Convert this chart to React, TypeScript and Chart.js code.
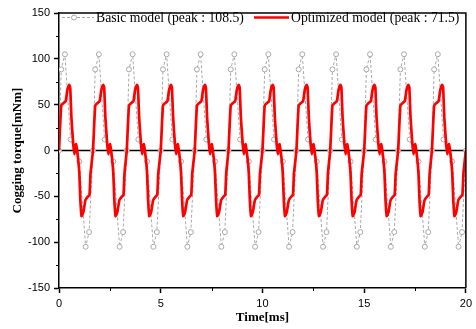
import React, { useEffect, useRef } from "react";
import { Chart, registerables } from "chart.js";

Chart.register(...registerables);

const basicLabel = "Basic model (peak : 108.5)";
const optLabel = "Optimized model (peak : 71.5)";
const xTitle = "Time[ms]";
const yTitle = "Cogging torque[mNm]";

const xTicks = [0, 5, 10, 15, 20];
const yTicks = [-150, -100, -50, 0, 50, 100, 150];
const xMinorTicks = [2.5, 7.5, 12.5, 17.5];
const yMinorTicks = [-125, -75, -25, 25, 75, 125];

// Basic model: sampled points (circles)
const basicTime = [
  0, 0.11, 0.29, 0.57, 1.0, 1.31, 1.48,
  1.67, 1.78, 1.96, 2.24, 2.67, 2.98, 3.15,
  3.33, 3.44, 3.62, 3.9, 4.33, 4.64, 4.81,
  5.0, 5.11, 5.29, 5.57, 6.0, 6.31, 6.48,
  6.67, 6.78, 6.96, 7.24, 7.67, 7.98, 8.15,
  8.33, 8.44, 8.62, 8.9, 9.33, 9.64, 9.81,
  10.0, 10.11, 10.29, 10.57, 11.0, 11.31, 11.48,
  11.67, 11.78, 11.96, 12.24, 12.67, 12.98, 13.15,
  13.33, 13.44, 13.62, 13.9, 14.33, 14.64, 14.81,
  15.0, 15.11, 15.29, 15.57, 16.0, 16.31, 16.48,
  16.67, 16.78, 16.96, 17.24, 17.67, 17.98, 18.15,
  18.33, 18.44, 18.62, 18.9, 19.33, 19.64, 19.81,
  20.0,
];
const basicTorque = [
  0, 88.5, 105, 12, -12, -105, -89,
  0, 88.5, 105, 12, -12, -105, -89,
  0, 88.5, 105, 12, -12, -105, -89,
  0, 88.5, 105, 12, -12, -105, -89,
  0, 88.5, 105, 12, -12, -105, -89,
  0, 88.5, 105, 12, -12, -105, -89,
  0, 88.5, 105, 12, -12, -105, -89,
  0, 88.5, 105, 12, -12, -105, -89,
  0, 88.5, 105, 12, -12, -105, -89,
  0, 88.5, 105, 12, -12, -105, -89,
  0, 88.5, 105, 12, -12, -105, -89,
  0, 88.5, 105, 12, -12, -105, -89,
  0,
];

// Optimized model
const optTime = [
  0, 0.11, 0.21, 0.33, 0.41, 0.5, 0.55, 0.61, 0.7, 0.76, 0.84, 0.93, 1.0, 1.05, 1.11, 1.2, 1.3, 1.41, 1.5, 1.55,
  1.67, 1.78, 1.88, 2.0, 2.08, 2.17, 2.22, 2.28, 2.37, 2.43, 2.51, 2.6, 2.67, 2.72, 2.78, 2.87, 2.97, 3.08, 3.17, 3.22,
  3.33, 3.44, 3.54, 3.66, 3.74, 3.83, 3.88, 3.94, 4.03, 4.09, 4.17, 4.26, 4.33, 4.38, 4.44, 4.53, 4.63, 4.74, 4.83, 4.88,
  5.0, 5.11, 5.21, 5.33, 5.41, 5.5, 5.55, 5.61, 5.7, 5.76, 5.84, 5.93, 6.0, 6.05, 6.11, 6.2, 6.3, 6.41, 6.5, 6.55,
  6.67, 6.78, 6.88, 7.0, 7.08, 7.17, 7.22, 7.28, 7.37, 7.43, 7.51, 7.6, 7.67, 7.72, 7.78, 7.87, 7.97, 8.08, 8.17, 8.22,
  8.33, 8.44, 8.54, 8.66, 8.74, 8.83, 8.88, 8.94, 9.03, 9.09, 9.17, 9.26, 9.33, 9.38, 9.44, 9.53, 9.63, 9.74, 9.83, 9.88,
  10.0, 10.11, 10.21, 10.33, 10.41, 10.5, 10.55, 10.61, 10.7, 10.76, 10.84, 10.93, 11.0, 11.05, 11.11, 11.2, 11.3, 11.41, 11.5, 11.55,
  11.67, 11.78, 11.88, 12.0, 12.08, 12.17, 12.22, 12.28, 12.37, 12.43, 12.51, 12.6, 12.67, 12.72, 12.78, 12.87, 12.97, 13.08, 13.17, 13.22,
  13.33, 13.44, 13.54, 13.66, 13.74, 13.83, 13.88, 13.94, 14.03, 14.09, 14.17, 14.26, 14.33, 14.38, 14.44, 14.53, 14.63, 14.74, 14.83, 14.88,
  15.0, 15.11, 15.21, 15.33, 15.41, 15.5, 15.55, 15.61, 15.7, 15.76, 15.84, 15.93, 16.0, 16.05, 16.11, 16.2, 16.3, 16.41, 16.5, 16.55,
  16.67, 16.78, 16.88, 17.0, 17.08, 17.17, 17.22, 17.28, 17.37, 17.43, 17.51, 17.6, 17.67, 17.72, 17.78, 17.87, 17.97, 18.08, 18.17, 18.22,
  18.33, 18.44, 18.54, 18.66, 18.74, 18.83, 18.88, 18.94, 19.03, 19.09, 19.17, 19.26, 19.33, 19.38, 19.44, 19.53, 19.63, 19.74, 19.83, 19.88,
  20.0,
];
const optTorque = [
  0, 49, 51.5, 54, 66, 71.5, 69, 36, 7, -4, 7, -7, -25, -54, -71.5, -67, -54, -50.5, -48.5, -25,
  0, 49, 51.5, 54, 66, 71.5, 69, 36, 7, -4, 7, -7, -25, -54, -71.5, -67, -54, -50.5, -48.5, -25,
  0, 49, 51.5, 54, 66, 71.5, 69, 36, 7, -4, 7, -7, -25, -54, -71.5, -67, -54, -50.5, -48.5, -25,
  0, 49, 51.5, 54, 66, 71.5, 69, 36, 7, -4, 7, -7, -25, -54, -71.5, -67, -54, -50.5, -48.5, -25,
  0, 49, 51.5, 54, 66, 71.5, 69, 36, 7, -4, 7, -7, -25, -54, -71.5, -67, -54, -50.5, -48.5, -25,
  0, 49, 51.5, 54, 66, 71.5, 69, 36, 7, -4, 7, -7, -25, -54, -71.5, -67, -54, -50.5, -48.5, -25,
  0, 49, 51.5, 54, 66, 71.5, 69, 36, 7, -4, 7, -7, -25, -54, -71.5, -67, -54, -50.5, -48.5, -25,
  0, 49, 51.5, 54, 66, 71.5, 69, 36, 7, -4, 7, -7, -25, -54, -71.5, -67, -54, -50.5, -48.5, -25,
  0, 49, 51.5, 54, 66, 71.5, 69, 36, 7, -4, 7, -7, -25, -54, -71.5, -67, -54, -50.5, -48.5, -25,
  0, 49, 51.5, 54, 66, 71.5, 69, 36, 7, -4, 7, -7, -25, -54, -71.5, -67, -54, -50.5, -48.5, -25,
  0, 49, 51.5, 54, 66, 71.5, 69, 36, 7, -4, 7, -7, -25, -54, -71.5, -67, -54, -50.5, -48.5, -25,
  0, 49, 51.5, 54, 66, 71.5, 69, 36, 7, -4, 7, -7, -25, -54, -71.5, -67, -54, -50.5, -48.5, -25,
  0,
];

const BASIC_COLOR = "#a8a8a8";
const OPT_COLOR = "#ff0000";
const SERIF = "'Liberation Serif', 'Times New Roman', serif";
const SANS = "'Liberation Sans', Arial, sans-serif";

const framePlugin = {
  id: "frame",
  beforeDatasetsDraw(chart: any) {
    const { ctx, chartArea, scales } = chart;
    const y0 = scales.y.getPixelForValue(0);
    ctx.save();
    ctx.strokeStyle = "#000";
    ctx.lineWidth = 1.5;
    ctx.beginPath();
    ctx.moveTo(chartArea.left, y0);
    ctx.lineTo(chartArea.right, y0);
    ctx.stroke();
    ctx.restore();
  },
  afterDraw(chart: any) {
    const { ctx, chartArea, scales } = chart;
    const { left, right, top, bottom } = chartArea;
    ctx.save();
    ctx.strokeStyle = "#000";
    ctx.lineWidth = 1.5;
    ctx.beginPath();
    ctx.moveTo(left, top);
    ctx.lineTo(right, top);
    ctx.lineTo(right, bottom);
    ctx.stroke();

    ctx.lineWidth = 1;
    ctx.beginPath();
    yMinorTicks.forEach((v) => {
      const y = Math.round(scales.y.getPixelForValue(v)) + 0.5;
      ctx.moveTo(left, y);
      ctx.lineTo(left - 3, y);
    });
    xMinorTicks.forEach((v) => {
      const x = Math.round(scales.x.getPixelForValue(v)) + 0.5;
      ctx.moveTo(x, bottom);
      ctx.lineTo(x, bottom + 3);
    });
    ctx.stroke();

    // legend
    const ly = top + 4.5;
    const ds = chart.data.datasets;
    ctx.font = `13.7px ${SERIF}`;
    ctx.textBaseline = "middle";
    ctx.fillStyle = "#000";

    // basic
    ctx.strokeStyle = BASIC_COLOR;
    ctx.lineWidth = 1;
    ctx.setLineDash([3, 2]);
    ctx.beginPath();
    ctx.moveTo(left + 3, ly);
    ctx.lineTo(left + 35, ly);
    ctx.stroke();
    ctx.setLineDash([]);
    ctx.beginPath();
    ctx.arc(left + 15, ly, 2.5, 0, Math.PI * 2);
    ctx.fillStyle = "#fff";
    ctx.fill();
    ctx.stroke();
    ctx.fillStyle = "#000";
    ctx.fillText(ds[0].label, left + 37, ly + 1);

    // optimized
    ctx.strokeStyle = OPT_COLOR;
    ctx.lineWidth = 2.5;
    ctx.beginPath();
    ctx.moveTo(left + 195, ly);
    ctx.lineTo(left + 230, ly);
    ctx.stroke();
    ctx.fillText(ds[1].label, left + 232, ly + 1);
    ctx.restore();
  },
};

export default function App() {
  const canvasRef = useRef<HTMLCanvasElement | null>(null);

  useEffect(() => {
    if (!canvasRef.current) return;
    const basicData = basicTime.map((t, i) => ({ x: t, y: basicTorque[i] }));
    const optData = optTime.map((t, i) => ({ x: t, y: optTorque[i] }));

    const chart = new Chart(canvasRef.current, {
      type: "line",
      data: {
        datasets: [
          {
            label: basicLabel,
            data: basicData,
            borderColor: BASIC_COLOR,
            borderWidth: 1,
            borderDash: [3, 2],
            pointRadius: 2.5,
            pointStyle: "circle",
            pointBorderColor: BASIC_COLOR,
            pointBackgroundColor: "#ffffff",
            pointBorderWidth: 1,
            tension: 0,
            order: 2,
          },
          {
            label: optLabel,
            data: optData,
            borderColor: OPT_COLOR,
            borderWidth: 2.7,
            pointRadius: 0,
            tension: 0.15,
            order: 1,
          },
        ],
      },
      options: {
        responsive: false,
        animation: false,
        devicePixelRatio: 1,
        layout: { padding: { top: 13, right: 7, left: 0, bottom: 0 } },
        plugins: {
          legend: { display: false },
          tooltip: { enabled: false },
        },
        scales: {
          x: {
            type: "linear",
            min: 0,
            max: 20,
            afterBuildTicks: (s: any) => {
              s.ticks = xTicks.map((v) => ({ value: v }));
            },
            afterFit: (s: any) => {
              s.height = 41;
            },
            ticks: {
              color: "#000",
              font: { family: SANS, size: 11 },
              padding: 4,
              maxRotation: 0,
              autoSkip: false,
            },
            grid: {
              drawOnChartArea: false,
              drawTicks: true,
              tickLength: 5,
              tickColor: "#000",
              tickWidth: 1.5,
            },
            border: { display: true, color: "#000", width: 1.5 },
            title: {
              display: true,
              text: xTitle,
              color: "#000",
              font: { family: SERIF, size: 13, weight: "bold" },
              padding: { top: 0, bottom: 4 },
            },
          },
          y: {
            type: "linear",
            min: -150,
            max: 150,
            afterBuildTicks: (s: any) => {
              s.ticks = yTicks.map((v) => ({ value: v }));
            },
            afterFit: (s: any) => {
              s.width = 59;
            },
            ticks: {
              color: "#000",
              font: { family: SANS, size: 11 },
              padding: 4,
              autoSkip: false,
            },
            grid: {
              drawOnChartArea: false,
              drawTicks: true,
              tickLength: 5,
              tickColor: "#000",
              tickWidth: 1.5,
            },
            border: { display: true, color: "#000", width: 1.5 },
            title: {
              display: true,
              text: yTitle,
              color: "#000",
              font: { family: SERIF, size: 13, weight: "bold" },
              padding: { top: 10, bottom: 0 },
            },
          },
        },
      },
      plugins: [framePlugin],
    });
    return () => chart.destroy();
  }, []);

  return (
    <div style={{ position: "absolute", left: 0, top: 0, width: 476, height: 329 }}>
      <canvas ref={canvasRef} width={476} height={329} style={{ width: 476, height: 329 }} />
    </div>
  );
}
